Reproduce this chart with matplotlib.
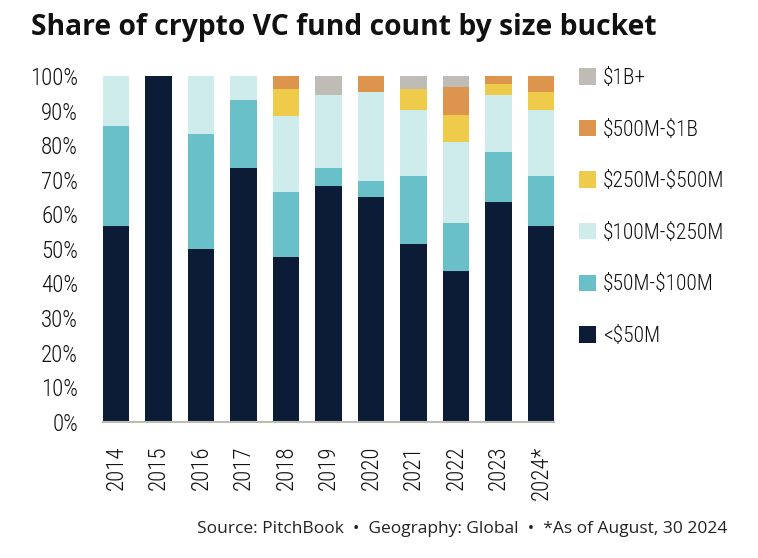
import matplotlib
matplotlib.use("Agg")
import matplotlib.pyplot as plt
from matplotlib.patches import Patch
import numpy as np

years = ["2014", "2015", "2016", "2017", "2018", "2019", "2020", "2021", "2022", "2023", "2024*"]
buckets = ["<\\$50M", "\\$50M-\\$100M", "\\$100M-\\$250M", "\\$250M-\\$500M", "\\$500M-\\$1B", "\\$1B+"]
under_50m = [56.6, 100.0, 50.0, 73.4, 47.6, 68.2, 65.0, 51.4, 43.6, 63.6, 56.6]
m50_100 = [28.9, 0.0, 33.2, 19.6, 18.8, 5.2, 4.6, 19.6, 13.9, 14.4, 14.4]
m100_250 = [14.5, 0.0, 16.8, 7.0, 22.0, 21.1, 25.8, 19.2, 23.4, 16.5, 19.2]
m250_500 = [0.0, 0.0, 0.0, 0.0, 7.8, 0.0, 0.0, 6.0, 7.8, 3.2, 5.2]
m500_1b = [0.0, 0.0, 0.0, 0.0, 3.8, 0.0, 4.6, 0.0, 8.1, 2.3, 4.6]
b1_plus = [0.0, 0.0, 0.0, 0.0, 0.0, 5.5, 0.0, 3.8, 3.2, 0.0, 0.0]
colors = ["#0D1C36", "#69C0C8", "#CDECEB", "#EECB4B", "#DD944C", "#BFBCB5"]

series = [under_50m, m50_100, m100_250, m250_500, m500_1b, b1_plus]

plt.rcParams['font.family'] = ['Roboto Condensed', 'Roboto', 'DejaVu Sans']
plt.rcParams['font.weight'] = 'light'

fig = plt.figure(figsize=(7.58, 5.58), dpi=100)
ax = fig.add_axes([103 / 758, (558 - 421.7) / 558, (554 - 103) / 758, (421.7 - 76) / 558])

x = np.arange(len(years))
bottom = np.zeros(len(years))
for vals, col in zip(series, colors):
    v = np.array(vals)
    ax.bar(x, v, bottom=bottom, width=0.62, color=col, linewidth=0)
    bottom += v

ax.set_xlim(-0.31, 10.31)
ax.set_ylim(0, 100)
ax.set_yticks(np.arange(0, 101, 10))
ax.set_yticklabels([f"{t}%" for t in range(0, 101, 10)], fontsize=16.5, color="#111111")
ax.set_xticks(x)
ax.set_xticklabels(years, rotation=90, fontsize=16.5, color="#111111")
ax.tick_params(axis="both", length=0)
ax.tick_params(axis="y", pad=18)
ax.tick_params(axis="x", pad=17)
for s in ["top", "right", "left"]:
    ax.spines[s].set_visible(False)
ax.spines["bottom"].set_color("#BDBDB3")
ax.spines["bottom"].set_linewidth(1.5)

handles = [Patch(facecolor=c, edgecolor="none") for c in colors]
leg = fig.legend(handles[::-1], buckets[::-1], loc="upper left",
                 bbox_to_anchor=(579 / 758, 1 - 68 / 558), frameon=False,
                 prop={"family": ["Roboto Condensed", "DejaVu Sans"], "size": 15.5, "weight": "light"},
                 handlelength=0.8, handleheight=0.8,
                 handletextpad=0.3, labelspacing=1.42, borderaxespad=0, borderpad=0)
for t in leg.get_texts():
    t.set_color("#111111")

fig.text(31 / 758, 1 - 28 / 558, "Share of crypto VC fund count by size bucket",
         fontsize=20.3, fontweight="bold", family=["Open Sans", "DejaVu Sans"],
         va="center", ha="left", color="#111111")

fig.text(727 / 758, 1 - 529 / 558,
         "Source: PitchBook  \u2022  Geography: Global  \u2022  *As of August, 30 2024",
         fontsize=12.5, fontweight="normal", family=["Open Sans", "DejaVu Sans"],
         va="center", ha="right", color="#222222")

fig.savefig("out.png", dpi=100)
